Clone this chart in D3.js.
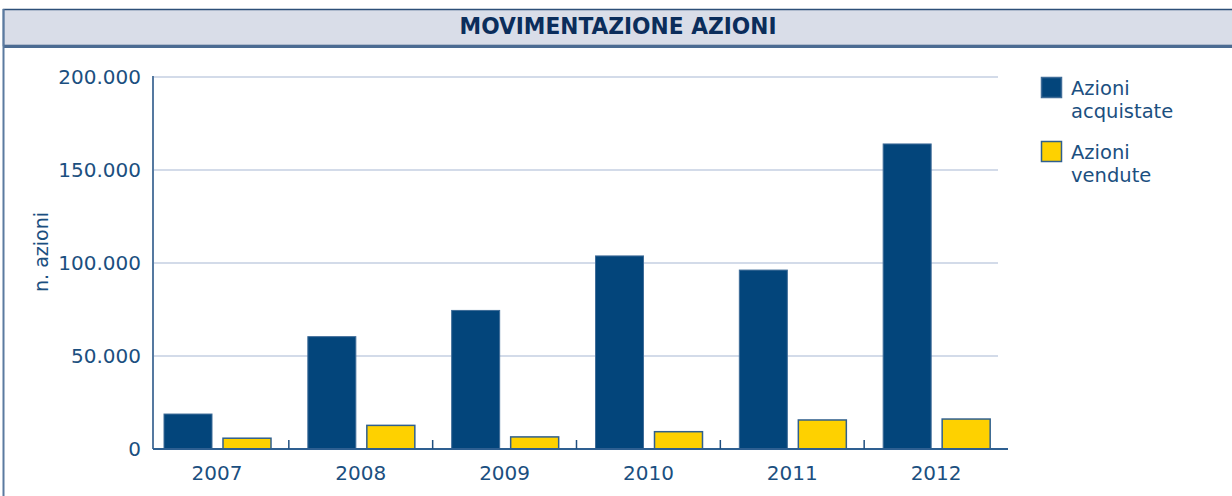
<!DOCTYPE html>
<html lang="it">
<head>
    <meta charset="UTF-8">
    <title>Movimentazione azioni</title>
    <style>
        body { margin: 0; overflow: hidden; background: #fff; }
        svg { display: block; }
        text { font-family: "DejaVu Sans", sans-serif; fill: #1b4f80; }
    </style>
    <script src="https://d3js.org/d3.v7.min.js"></script>
</head>
<body>
<svg id="chart" width="1232" height="496"></svg>
<script>
        const width = 1232;
        const height = 496;

        // dati
        const years = ["2007", "2008", "2009", "2010", "2011", "2012"];
        const acquistate = [18800, 60400, 74500, 103800, 96200, 164000];
        const vendute = [5800, 12700, 6500, 9300, 15600, 16100];
        const seriesNames = ["Azioni acquistate", "Azioni vendute"];
        const yTicks = [0, 50000, 100000, 150000, 200000];

        const blue = "#03457b";
        const yellow = "#fed100";

        const svg = d3.select("#chart");

        // cornice e barra del titolo
        svg.append("rect")
            .attr("x", 3.5).attr("y", 9.5)
            .attr("width", width).attr("height", 36)
            .attr("fill", "#d9dde8")
            .attr("stroke", "#2d4f78").attr("stroke-width", 1.5);
        svg.append("line")
            .attr("x1", 3).attr("x2", width)
            .attr("y1", 46.5).attr("y2", 46.5)
            .attr("stroke", "#4b6b92").attr("stroke-width", 3);
        svg.append("line")
            .attr("x1", 3.5).attr("x2", 3.5)
            .attr("y1", 9).attr("y2", height)
            .attr("stroke", "#5b7aa0").attr("stroke-width", 2);

        svg.append("text")
            .attr("x", 618).attr("y", 34)
            .attr("text-anchor", "middle")
            .attr("textLength", 317)
            .attr("lengthAdjust", "spacingAndGlyphs")
            .style("font-family", "'Liberation Sans Narrow', 'DejaVu Sans Condensed', sans-serif")
            .style("font-weight", "bold")
            .style("font-size", "23.5px")
            .style("fill", "#0b2d5b")
            .text("MOVIMENTAZIONE AZIONI");

        // scale
        const x = d3.scaleBand().domain(years).range([145, 1008]);
        const y = d3.scaleLinear().domain([0, 200000]).range([449, 77]);
        const fmt = d => d3.format(",")(d).replace(/,/g, ".");

        // griglia
        svg.append("g")
            .selectAll("line")
            .data(yTicks.filter(d => d > 0))
            .join("line")
            .attr("x1", 153).attr("x2", 998)
            .attr("y1", d => y(d)).attr("y2", d => y(d))
            .attr("stroke", "#c4cfe2").attr("stroke-width", 1.5);

        // etichette asse y
        svg.append("g")
            .selectAll("text")
            .data(yTicks)
            .join("text")
            .attr("x", 141)
            .attr("y", d => y(d) + 7)
            .attr("text-anchor", "end")
            .style("font-size", "20px")
            .text(fmt);

        svg.append("text")
            .attr("transform", "translate(48,252) rotate(-90)")
            .attr("text-anchor", "middle")
            .style("font-size", "19px")
            .text("n. azioni");

        // barre
        const inner = x.bandwidth();
        const barW = 48;
        const groups = svg.append("g")
            .selectAll("g")
            .data(years.map((yr, i) => ({ yr, a: acquistate[i], v: vendute[i] })))
            .join("g")
            .attr("transform", d => `translate(${x(d.yr)},0)`);

        groups.append("rect")
            .attr("x", 19).attr("width", barW)
            .attr("y", d => y(d.a))
            .attr("height", d => y(0) - y(d.a))
            .attr("fill", blue)
            .attr("stroke", "#3f6c98").attr("stroke-width", 1);

        groups.append("rect")
            .attr("x", 19 + barW + 11).attr("width", barW)
            .attr("y", d => y(d.v))
            .attr("height", d => y(0) - y(d.v))
            .attr("fill", yellow)
            .attr("stroke", "#2f5f8e").attr("stroke-width", 1.5);

        // assi
        svg.append("line")
            .attr("x1", 153).attr("x2", 153)
            .attr("y1", 76).attr("y2", 449)
            .attr("stroke", "#5579a0").attr("stroke-width", 2);
        svg.append("line")
            .attr("x1", 153).attr("x2", 1008)
            .attr("y1", 449).attr("y2", 449)
            .attr("stroke", "#2e5f91").attr("stroke-width", 2);

        svg.append("g")
            .selectAll("line")
            .data(years.slice(1))
            .join("line")
            .attr("x1", d => x(d)).attr("x2", d => x(d))
            .attr("y1", 440).attr("y2", 449)
            .attr("stroke", "#1f4f80").attr("stroke-width", 1.5);

        svg.append("g")
            .selectAll("text")
            .data(years)
            .join("text")
            .attr("x", d => x(d) + inner / 2)
            .attr("y", 480)
            .attr("text-anchor", "middle")
            .style("font-size", "20px")
            .text(d => d);

        // legenda
        const legend = svg.append("g")
            .selectAll("g")
            .data(seriesNames)
            .join("g")
            .attr("transform", (d, i) => `translate(1041,${77 + i * 64})`);

        legend.append("rect")
            .attr("x", 0.5).attr("y", 0.5)
            .attr("width", 20).attr("height", 20)
            .attr("fill", (d, i) => i === 0 ? blue : yellow)
            .attr("stroke", (d, i) => i === 0 ? "#3f6c98" : "#2f5f8e")
            .attr("stroke-width", 1.5);

        legend.append("text")
            .attr("x", 30)
            .style("font-size", "19.5px")
            .selectAll("tspan")
            .data(d => d.split(" "))
            .join("tspan")
            .attr("x", 30)
            .attr("y", (d, i) => 18 + i * 23)
            .text(d => d);
</script>
</body>
</html>
